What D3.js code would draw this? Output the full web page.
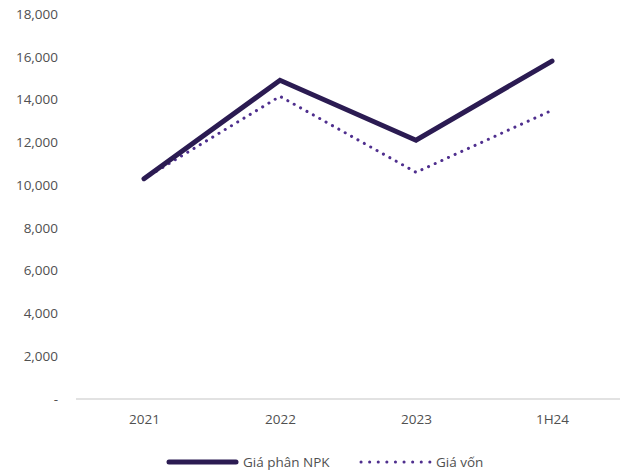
<!DOCTYPE html>
<html>
<head>
<meta charset="utf-8">
<script src="https://cdn.jsdelivr.net/npm/d3@7"></script>
<style>
  body { margin: 0; background: #fff; }
  text { font-family: "Open Sans", sans-serif; fill: #505050; }
  .axis .domain { display: none; }
  .axis line { display: none; }
</style>
</head>
<body>
<div id="chart"></div>
<script>
(function() {
  'use strict';

  var categories = ['2021', '2022', '2023', '1H24'];
  var npkPrice = [10300, 14900, 12100, 15800];
  var costPrice = [10300, 14150, 10600, 13500];
  var yTicks = [0, 2000, 4000, 6000, 8000, 10000, 12000, 14000, 16000, 18000];
  var seriesNames = ['Giá phân NPK', 'Giá vốn'];

  var W = 621, H = 474;
  var margin = { top: 14, right: 1, bottom: 75, left: 76 };
  var width = W - margin.left - margin.right,
    height = H - margin.top - margin.bottom;

  var svg = d3.select('#chart').append('svg')
    .attr('width', W)
    .attr('height', H);

  var g = svg.append('g')
    .attr('transform', 'translate(' + margin.left + ',' + margin.top + ')');

  var x = d3.scalePoint()
    .domain(categories)
    .range([0, width])
    .padding(0.5);

  var y = d3.scaleLinear()
    .domain([0, 18000])
    .range([height, 0]);

  var fmt = function(d) { return d === 0 ? '-' : d3.format(',')(d); };

  var yAxis = g.append('g')
    .attr('class', 'axis')
    .call(d3.axisLeft(y).tickValues(yTicks).tickFormat(fmt).tickSize(0).tickPadding(18));
  yAxis.selectAll('text').style('font-size', '13.5px');

  // baseline
  g.append('line')
    .attr('x1', 0).attr('x2', width)
    .attr('y1', y(0)).attr('y2', y(0))
    .attr('stroke', '#d9d9d9')
    .attr('stroke-width', 1.5);

  var xAxis = g.append('g')
    .attr('class', 'axis')
    .attr('transform', 'translate(0,' + height + ')')
    .call(d3.axisBottom(x).tickSize(0).tickPadding(15));
  xAxis.selectAll('text').style('font-size', '13.5px');

  var line = d3.line()
    .x(function(d, i) { return x(categories[i]); })
    .y(function(d) { return y(d); });

  g.append('path')
    .datum(costPrice)
    .attr('d', line)
    .attr('fill', 'none')
    .attr('stroke', '#4f2f8e')
    .attr('stroke-width', 3)
    .attr('stroke-linecap', 'round')
    .attr('stroke-dasharray', '0.1 7.2');

  g.append('path')
    .datum(npkPrice)
    .attr('d', line)
    .attr('fill', 'none')
    .attr('stroke', '#2b1b52')
    .attr('stroke-width', 5)
    .attr('stroke-linecap', 'round')
    .attr('stroke-linejoin', 'miter');

  // legend
  var ly = 462;
  var legend = svg.append('g');
  legend.append('line')
    .attr('x1', 169).attr('x2', 236)
    .attr('y1', ly).attr('y2', ly)
    .attr('stroke', '#2b1b52')
    .attr('stroke-width', 5)
    .attr('stroke-linecap', 'round');
  legend.append('text')
    .attr('x', 243).attr('y', ly + 5)
    .style('font-size', '13.5px')
    .text(seriesNames[0]);
  legend.append('line')
    .attr('x1', 361).attr('x2', 430)
    .attr('y1', ly).attr('y2', ly)
    .attr('stroke', '#4f2f8e')
    .attr('stroke-width', 3)
    .attr('stroke-linecap', 'round')
    .attr('stroke-dasharray', '0.1 8.5');
  legend.append('text')
    .attr('x', 436).attr('y', ly + 5)
    .style('font-size', '13.5px')
    .text(seriesNames[1]);
})();
</script>
</body>
</html>
